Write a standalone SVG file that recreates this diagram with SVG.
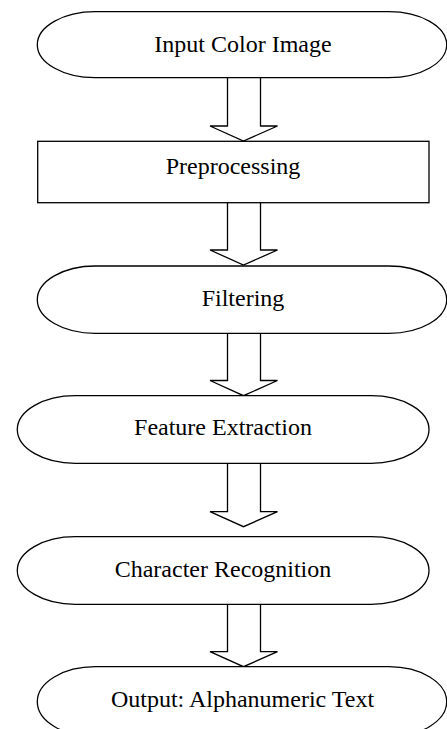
<svg xmlns="http://www.w3.org/2000/svg" width="447" height="729" viewBox="0 0 447 729">
<style>
.s{fill:#fff;stroke:#000;stroke-width:1.3}
.a{fill:#fff;stroke:#000;stroke-width:1.3;stroke-linejoin:miter}
text{font-family:"Liberation Serif","Times New Roman",serif;font-size:24px;fill:#000;text-anchor:middle}
</style>
<rect width="447" height="729" fill="#fff"/>
<g id="connectors">
<path class="a" d="M227.5,78 V126 H210 L243.5,141 L277.5,126 H260.5 V78"/>
<path class="a" d="M227.5,203 V250 H210 L243.5,265 L277.5,250 H260.5 V203"/>
<path class="a" d="M227.5,333.3 V380.5 H210 L243.5,395.7 L277.5,380.5 H260.5 V333.3"/>
<path class="a" d="M227.5,463.3 V511.7 H210 L243.5,526.7 L277.5,511.7 H260.5 V463.3"/>
<path class="a" d="M227.5,604.3 V651.7 H210 L243.5,666.7 L277.5,651.7 H260.5 V604.3"/>
</g>
<g id="input">
<rect class="s" x="37.3" y="11.7" width="409.4" height="66" rx="58" ry="33"/>
<text x="243" y="52">Input Color Image</text>
</g>
<g id="preprocessing">
<rect class="s" x="37.7" y="141.3" width="391.3" height="61.4"/>
<text x="233" y="174">Preprocessing</text>
</g>
<g id="filtering">
<rect class="s" x="37.3" y="266" width="409.4" height="67.3" rx="58" ry="33.6"/>
<text x="243" y="306">Filtering</text>
</g>
<g id="feature">
<rect class="s" x="17.3" y="395.7" width="411.7" height="67.6" rx="58" ry="33.8"/>
<text x="223" y="435">Feature Extraction</text>
</g>
<g id="character">
<rect class="s" x="17.3" y="536.7" width="411.7" height="67.6" rx="58" ry="33.8"/>
<text x="223" y="577">Character Recognition</text>
</g>
<g id="output">
<rect class="s" x="37.3" y="666.7" width="409.4" height="70" rx="58" ry="35"/>
<text x="242.5" y="707">Output: Alphanumeric Text</text>
</g>
</svg>
